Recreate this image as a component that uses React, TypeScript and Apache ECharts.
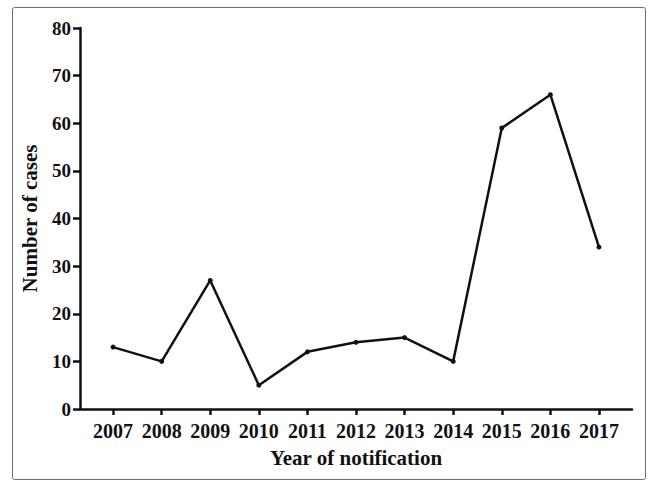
import React, { useEffect, useRef } from "react";
import * as echarts from "echarts";

const years = ["2007", "2008", "2009", "2010", "2011", "2012", "2013", "2014", "2015", "2016", "2017"];
const cases = [13, 10, 27, 5, 12, 14, 15, 10, 59, 66, 34];

const FONT = "'Liberation Serif', 'Times New Roman', serif";

export default function App() {
  const ref = useRef<HTMLDivElement>(null);
  useEffect(() => {
    if (!ref.current) return;
    const chart = echarts.init(ref.current, null, { renderer: "svg" });
    const idx = years.map((_, i) => i);
    chart.setOption({
      animation: false,
      backgroundColor: "#ffffff",
      grid: { left: 80, right: 20, top: 28, bottom: 72, containLabel: false },
      graphic: [
        {
          type: "rect",
          left: 10,
          top: 5,
          shape: { width: 633, height: 472, r: 2 },
          style: { fill: "none", stroke: "#6e6e6e", lineWidth: 1 },
          silent: true,
        },
      ],
      xAxis: {
        type: "value",
        min: -0.68,
        max: 10.68,
        name: "Year of notification",
        nameLocation: "middle",
        nameGap: 38,
        nameTextStyle: { fontFamily: FONT, fontWeight: "bold", fontSize: 21, color: "#111" },
        axisLine: { show: true, onZero: false, lineStyle: { color: "#111", width: 2.5 } },
        axisTick: { show: true, customValues: idx, length: 6, lineStyle: { color: "#111", width: 2.5 } },
        axisLabel: {
          customValues: idx,
          formatter: (v: number) => years[Math.round(v)] ?? "",
          fontFamily: FONT,
          fontWeight: "bold",
          fontSize: 20,
          color: "#111",
          margin: 12,
        },
        splitLine: { show: false },
      },
      yAxis: {
        type: "value",
        min: 0,
        max: 80,
        interval: 10,
        name: "Number of cases",
        nameLocation: "middle",
        nameGap: 40,
        nameTextStyle: { fontFamily: FONT, fontWeight: "bold", fontSize: 21, color: "#111" },
        axisLine: { show: true, onZero: false, lineStyle: { color: "#111", width: 2.5 } },
        axisTick: { show: true, inside: false, interval: 0, length: 7, lineStyle: { color: "#111", width: 2.5 } },
        axisLabel: {
          fontFamily: FONT,
          fontWeight: "bold",
          fontSize: 19,
          color: "#111",
          margin: 9,
        },
        splitLine: { show: false },
      },
      series: [
        {
          type: "line",
          data: cases.map((v, i) => [i, v]),
          symbol: "circle",
          symbolSize: 5,
          lineStyle: { color: "#111", width: 2.5 },
          itemStyle: { color: "#111" },
        },
      ],
    });
    return () => chart.dispose();
  }, []);
  return (
    <div
      ref={ref}
      style={{ position: "fixed", left: 0, top: 0, width: 652, height: 481, background: "#fff" }}
    />
  );
}
